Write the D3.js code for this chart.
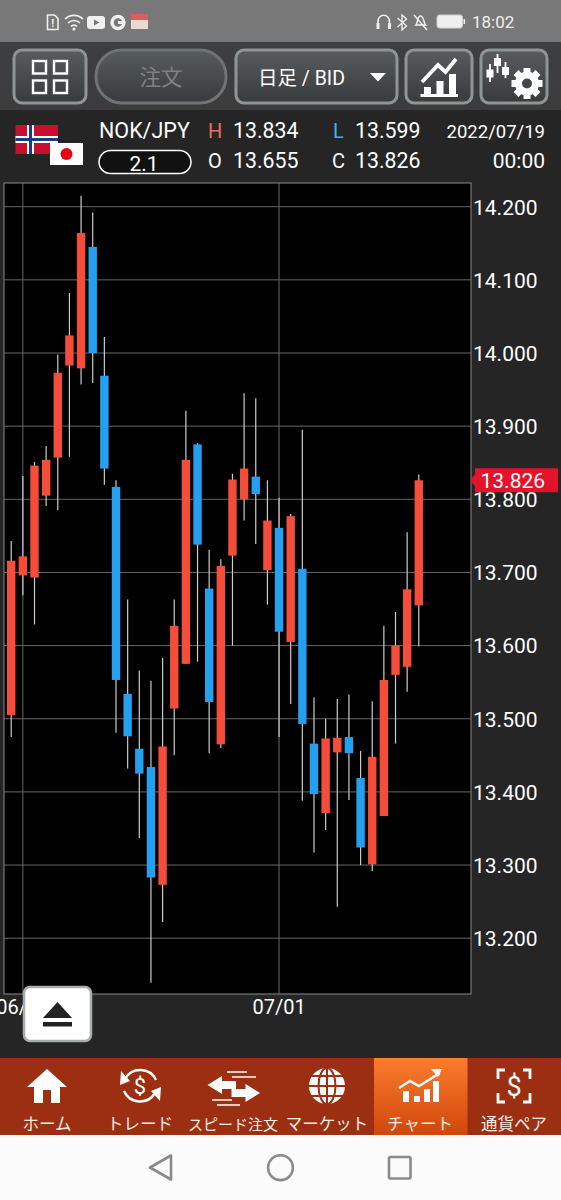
<!DOCTYPE html>
<html><head><meta charset="utf-8">
<style>html,body{margin:0;padding:0;background:#252525}svg{display:block}
text{font-family:Roboto,"Noto Sans CJK JP",sans-serif}</style>
<script src="https://cdn.jsdelivr.net/npm/d3@7"></script></head><body>
<script>
const dates=["05/31","06/01","06/02","06/03","06/06","06/07","06/08","06/09","06/10","06/13","06/14","06/15","06/16","06/17","06/20","06/21","06/22","06/23","06/24","06/27","06/28","06/29","06/30","07/01","07/04","07/05","07/06","07/07","07/08","07/11","07/12","07/13","07/14","07/15","07/18","07/19"];
const opens=[13.505,13.696,13.693,13.805,13.857,13.983,13.979,14.145,13.969,13.817,13.534,13.459,13.434,13.273,13.514,13.575,13.875,13.678,13.465,13.723,13.800,13.831,13.703,13.761,13.605,13.705,13.466,13.371,13.454,13.475,13.419,13.301,13.367,13.560,13.571,13.655];
const highs=[13.743,13.832,13.851,13.873,13.998,14.082,14.215,14.192,14.022,13.826,13.663,13.566,13.552,13.583,13.663,13.921,13.877,13.731,13.718,13.835,13.945,13.938,13.826,13.802,13.780,13.895,13.529,13.500,13.527,13.533,13.456,13.524,13.627,13.646,13.755,13.834];
const lows=[13.475,13.669,13.629,13.791,13.785,13.858,13.957,13.959,13.820,13.481,13.432,13.337,13.139,13.222,13.450,13.575,13.578,13.453,13.460,13.600,13.771,13.739,13.656,13.475,13.520,13.388,13.317,13.348,13.243,13.389,13.300,13.292,13.367,13.466,13.537,13.599];
const closes=[13.716,13.722,13.846,13.854,13.973,14.024,14.164,14.000,13.842,13.553,13.476,13.425,13.283,13.462,13.627,13.854,13.738,13.523,13.709,13.827,13.842,13.807,13.771,13.619,13.777,13.493,13.397,13.473,13.474,13.453,13.324,13.448,13.553,13.600,13.677,13.826];
const priceTicks=[13.2,13.3,13.4,13.5,13.6,13.7,13.8,13.9,14.0,14.1,14.2];
const dateTicks=["06/01","07/01"];
const lastPrice=13.826;
const navLabels=["ホーム","トレード","スピード注文","マーケット","チャート","通貨ペア"];

const W=561,H=1200;
const svg=d3.select("body").append("svg").attr("width",W).attr("height",H);
const defs=svg.append("defs");
function grad(id,stops){const g=defs.append("linearGradient").attr("id",id).attr("x1",0).attr("x2",0).attr("y1",0).attr("y2",1);
 stops.forEach(s=>g.append("stop").attr("offset",s[0]).attr("stop-color",s[1]));}
grad("tb",[[0,"#3d3f41"],[1,"#3c3c3c"]]);
grad("btn",[[0,"#585c5e"],[1,"#383a3c"]]);
grad("tab",[[0,"#fb7c2e"],[1,"#d0470a"]]);
defs.append("clipPath").attr("id","plot").append("rect").attr("x",4).attr("y",183).attr("width",467).attr("height",811);

const R=(x,y,w,h,f)=>svg.append("rect").attr("x",x).attr("y",y).attr("width",w).attr("height",h).attr("fill",f);
const T=(s,x,y,size,fill,anchor)=>svg.append("text").attr("x",x).attr("y",y).attr("font-size",size).attr("fill",fill).attr("text-anchor",anchor||"start").text(s);
const P=(d,f,st,sw)=>svg.append("path").attr("d",d).attr("fill",f||"none").attr("stroke",st||"none").attr("stroke-width",sw||0);

// backgrounds
R(0,0,W,H,"#252525");
R(0,0,W,42,"#787878");
R(0,42,W,68,"url(#tb)");
R(0,1058,W,77,"#9c2f12");
R(0,1135,W,65,"#fbfbfb");

// status bar
P("M47.5 15h7l3.5 3.5v11h-10.5z","none","#f0f0f0",1.6);
T("!",52.8,27,11,"#f0f0f0","middle").attr("font-weight",700);
P("M65 19a13 13 0 0 1 18 0M68 23a8.5 8.5 0 0 1 12 0M71 26.5a4 4 0 0 1 6 0","none","#f0f0f0",1.6);
svg.append("circle").attr("cx",74).attr("cy",29).attr("r",1.6).attr("fill","#f0f0f0");
svg.append("rect").attr("x",87).attr("y",16).attr("width",18).attr("height",13).attr("rx",3).attr("fill","#f0f0f0");
P("M94 19.5l5.5 3-5.5 3z","#787878");
svg.append("circle").attr("cx",118).attr("cy",22.5).attr("r",6).attr("fill","none").attr("stroke","#f0f0f0").attr("stroke-width",3.4);
R(118,21,7,3,"#f0f0f0");
R(131,19,17,10,"#ead9d2");R(131,14,17,6,"#d9605a");
P("M378 26v-5a5.7 5.7 0 0 1 11.4 0v5","none","#f0f0f0",1.6);
R(376.5,23,3,6,"#f0f0f0");R(388,23,3,6,"#f0f0f0");
P("M397.5 18l9 8-4.5 4v-15l4.5 4-9 8","none","#f0f0f0",1.3);
P("M416 25c2-2 1-9 4.5-9s3 7 5 9zM414 15l13 15","none","#f0f0f0",1.5);
svg.append("rect").attr("x",437).attr("y",15).attr("width",25.5).attr("height",13).attr("rx",2.5).attr("fill","#efefef").attr("stroke","#cfcfcf");
R(463.5,19,1.6,5,"#efefef");
T("18:02",472,28,17,"#eeeeee");

// toolbar buttons
const btn=(x,y,w,h,r,st)=>svg.append("rect").attr("x",x).attr("y",y).attr("width",w).attr("height",h).attr("rx",r).attr("fill","url(#btn)").attr("stroke",st||"#8e9595").attr("stroke-width",3);
btn(14,50,72,53,8);
[[33,61],[54,61],[33,80.5],[54,80.5]].forEach(c=>svg.append("rect").attr("x",c[0]).attr("y",c[1]).attr("width",13).attr("height",12.5).attr("fill","none").attr("stroke","#fff").attr("stroke-width",2.4));
btn(96,50,130,53,26,"#6e7375");
T("注文",161,85,21.5,"#7d8183","middle");
btn(236,50,161,53,8);
T("日足 / BID",258,84.5,19.5,"#ffffff");
P("M370 73h16l-8 8.5z","#fff");
btn(406,50,66,53,8);
P("M420.5 94h37.5v3h-37.5zM424 87h7v7h-7zM436.5 81h7v13h-7zM449 74h7v20h-7z","#fff");
P("M422 82L438 65L445.5 72L456 59","none","#fff",3.8);
btn(481,50,66,53,8);
P("M490 64v18M497.5 54v19M505.5 62v16","none","#fff",1.8);
R(486.5,69.5,7,8,"#fff");R(494,58,7,8,"#fff");R(502,67,7,8,"#fff");
svg.append("circle").attr("cx",527).attr("cy",83.5).attr("r",8.5).attr("fill","none").attr("stroke","#fff").attr("stroke-width",7);
d3.range(8).forEach(i=>{svg.append("rect").attr("x",523.5).attr("y",68).attr("width",7).attr("height",5.5).attr("fill","#fff").attr("transform",`rotate(${i*45} 527 83.5)`);});

// info row: flags
R(15.5,125,42.5,29,"#c8102e");
R(15.5,136,42.5,7,"#fff");R(27,125,7,29,"#fff");
R(15.5,138,42.5,3,"#1f3a78");R(29,125,3,29,"#1f3a78");
R(50,143,33,22,"#fff");
svg.append("circle").attr("cx",66.5).attr("cy",154).attr("r",6).attr("fill","#e60012");

const top1=138,top2=167.5;
T("NOK/JPY",99,top1,21.5,"#fff");
svg.append("rect").attr("x",99).attr("y",150.5).attr("width",92).attr("height",23).attr("rx",11.5).attr("fill","#111").attr("stroke","#fff").attr("stroke-width",1.5);
T("2.1",144,170.5,21,"#fff","middle");
T("H",208,top1,20,"#e8705f");T("13.834",233,top1,21.3,"#fff");
T("L",333,top1,20,"#3fb4e8");T("13.599",355,top1,21.3,"#fff");
T("O",208,top2,20,"#fff");T("13.655",233,top2,21.3,"#fff");
T("C",332,top2,20,"#fff");T("13.826",355,top2,21.3,"#fff");
T("2022/07/19",545,top1,18.5,"#fff","end");
T("00:00",545,top2,21,"#fff","end");

// chart
const plot={l:4,r:471,t:183,b:994};
const y=d3.scaleLinear().domain([13.2,14.2]).range([938.2,206.7]);
const x=d3.scalePoint().domain(dates).range([11.2,418.8]);
const bodyW=8.4;
R(plot.l,plot.t,plot.r-plot.l,plot.b-plot.t,"#000");
const g=svg.append("g");
g.selectAll("line.h").data(priceTicks).join("line").attr("x1",plot.l).attr("x2",plot.r).attr("y1",d=>y(d)).attr("y2",d=>y(d)).attr("stroke","#666").attr("stroke-width",1);
const gv=svg.append("g");
gv.selectAll("line").data(dateTicks).join("line").attr("x1",d=>x(d)).attr("x2",d=>x(d)).attr("y1",plot.t).attr("y2",plot.b).attr("stroke","#666").attr("stroke-width",1);

const candles=d3.range(dates.length);
const cg=svg.append("g").attr("clip-path","url(#plot)");
cg.append("g").selectAll("line").data(candles).join("line").attr("x1",i=>x(dates[i])).attr("x2",i=>x(dates[i])).attr("y1",i=>y(highs[i])).attr("y2",i=>y(lows[i])).attr("stroke","#cccccc").attr("stroke-width",1.2);
cg.append("g").selectAll("rect").data(candles).join("rect").attr("x",i=>x(dates[i])-bodyW/2).attr("width",bodyW)
 .attr("y",i=>y(Math.max(opens[i],closes[i]))).attr("height",i=>Math.abs(y(opens[i])-y(closes[i])))
 .attr("fill",i=>closes[i]>=opens[i]?"#f44d3a":"#259ff0");

svg.append("rect").attr("x",plot.l).attr("y",plot.t).attr("width",plot.r-plot.l).attr("height",plot.b-plot.t).attr("fill","none").attr("stroke","#8a8a8a").attr("stroke-width",1);

// axis labels
svg.append("g").selectAll("text").data(priceTicks).join("text").attr("x",473).attr("y",d=>y(d)+7.8).attr("font-size",21).attr("fill","#fff").text(d=>d3.format(".3f")(d));
svg.append("g").selectAll("text").data(dateTicks).join("text").attr("x",d=>x(d)).attr("y",1014).attr("font-size",20).attr("fill","#fff").attr("text-anchor","middle").text(d=>d);

// last price tag
const ty=y(lastPrice);
P(`M470 ${ty}l5-6v-6h83v24h-83v-6z`,"#e3132b");
T(d3.format(".3f")(lastPrice),480.5,ty+7.5,21,"#fff");

// eject button
svg.append("rect").attr("x",24).attr("y",987).attr("width",67).attr("height",54).attr("rx",6).attr("fill","#fff").attr("stroke","#a9adad").attr("stroke-width",2.5);
P("M43 1018l14.5-16 14.5 16z","#222");R(43,1022,29,4.5,"#222");

// nav tabs
R(374,1058,93.5,77,"url(#tab)");
svg.append("g").selectAll("text").data(navLabels).join("text").attr("x",(d,i)=>[47,140,233,327,420,514][i]).attr("y",1130).attr("text-anchor","middle")
 .attr("font-size",(d,i)=>i==2?15:16.5).attr("fill","#f6ece6").text(d=>d);

// home
P("M27 1087L47 1069L67 1087H60V1103H51V1090H43V1103H34V1087Z","#fff");
// trade
P("M125 1079a17.5 17.5 0 0 1 31 1","none","#fff",2.5);
P("M155 1093a17.5 17.5 0 0 1-31-2","none","#fff",2.5);
P("M121 1071l-1 14 10-4z M160 1101l1-14-10 4z","#fff");
T("$",140,1094,22,"#fff","middle").attr("font-family","Liberation Serif");
// speed
P("M207.5 1085l14.5-9v5h14v8h-14v5zM260 1093l-14.5-9v5h-14v8h14v5z","#fff");
P("M227 1072h20M232 1077h24M212 1100h20M217 1105h23","none","#fff",1.4);
// globe
svg.append("circle").attr("cx",327).attr("cy",1086).attr("r",18).attr("fill","#fff");
const gb=svg.append("g").attr("stroke","#9c2f12").attr("fill","none").attr("stroke-width",2);
gb.append("ellipse").attr("cx",327).attr("cy",1086).attr("rx",8.5).attr("ry",18);
gb.append("line").attr("x1",327).attr("x2",327).attr("y1",1068).attr("y2",1104);
[1076,1086,1096].forEach(v=>gb.append("line").attr("x1",309).attr("x2",345).attr("y1",v).attr("y2",v));
// chart tab
P("M403 1091h6v11h-6zM414 1096h6v6h-6zM424 1089h6v13h-6zM433 1081h6v21h-6z","#fff");
P("M399 1088l11-7 9 5 21-13","none","#fff",2.4);
P("M442 1069l-11 0 7 8z","#fff");
// pair
P("M505 1070h-7v9M523 1070h7v9M505 1102h-7v-9M523 1102h7v-9","none","#fff",2.8);
T("$",514,1096,27,"#fff","middle").attr("font-family","Liberation Sans");

// android nav
P("M171 1155.5L150 1167.5L171 1179.5Z","none","#8a8a8a",2.6).attr("stroke-linejoin","round");
svg.append("circle").attr("cx",280.5).attr("cy",1167.7).attr("r",12.4).attr("fill","none").attr("stroke","#8a8a8a").attr("stroke-width",2.6);
svg.append("rect").attr("x",389).attr("y",1157).attr("width",21.5).attr("height",21.5).attr("rx",1.5).attr("fill","none").attr("stroke","#8a8a8a").attr("stroke-width",2.6);
</script></body></html>
